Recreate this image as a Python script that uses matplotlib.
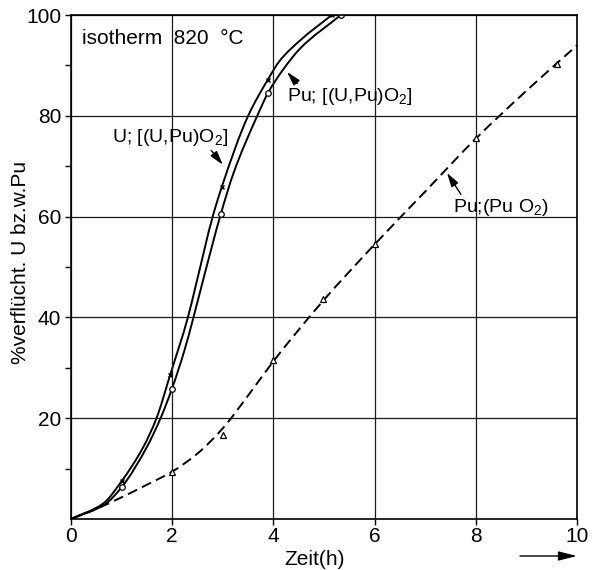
import numpy as np
import matplotlib
matplotlib.use("Agg")
import matplotlib.pyplot as plt
from matplotlib.path import Path
from matplotlib.patches import PathPatch

plt.rcParams['font.family'] = ['Liberation Sans', 'DejaVu Sans']
plt.rcParams['mathtext.fontset'] = 'custom'
plt.rcParams['mathtext.rm'] = 'Liberation Sans'

# measured points
u_x = [1, 1.96, 2.98, 3.89, 5.15]
u_y = [7.5, 28.6, 65.9, 87.2, 100]
pu_x = [1.0, 1.99, 2.96, 3.89, 5.33]
pu_y = [6.3, 25.7, 60.5, 84.5, 100]
puo2_x = [2, 3, 4, 4.98, 6, 8, 9.6]
puo2_y = [9.4, 16.7, 31.5, 43.6, 54.5, 75.6, 90.3]

# curves
u_cx = [0, 0.64, 1.0, 1.43, 1.69, 1.96, 2.31, 2.47, 2.80, 2.98, 3.50, 3.89, 4.13, 4.53, 5.15]
u_cy = [0, 3.1, 7.5, 14.3, 20, 28.6, 40, 46.5, 60, 65.9, 80, 87.2, 91.0, 95.0, 100]
pu_cx = [0, 0.67, 1.0, 1.50, 1.77, 1.99, 2.24, 2.42, 2.61, 2.96, 3.21, 3.68, 3.89, 4.2, 4.53, 5.33]
pu_cy = [0, 2.9, 6.3, 14.3, 20, 25.7, 33.4, 40, 47.4, 60.5, 68.6, 80, 84.5, 89.3, 93.4, 100]
puo2_cx = [0, 0.5, 1, 1.5, 2, 2.5, 3, 3.5, 4, 5, 6, 7, 8, 9, 10]
puo2_cy = [0, 2.0, 4.3, 6.8, 9.4, 13.0, 18.0, 24.5, 31.3, 43.5, 54.5, 65.0, 75.5, 85.0, 94]


def smooth_path(xs, ys):
    # monotone cubic bezier path through the read points (drawing only)
    x = np.asarray(xs, float)
    y = np.asarray(ys, float)
    h = np.diff(x)
    d = np.diff(y) / h
    m = np.zeros_like(x)
    m[0], m[-1] = d[0], d[-1]
    for i in range(1, len(x) - 1):
        if d[i - 1] * d[i] > 0:
            w1 = 2 * h[i] + h[i - 1]
            w2 = h[i] + 2 * h[i - 1]
            m[i] = (w1 + w2) / (w1 / d[i - 1] + w2 / d[i])
    verts = [(x[0], y[0])]
    codes = [Path.MOVETO]
    for i in range(len(x) - 1):
        verts += [(x[i] + h[i] / 3, y[i] + m[i] * h[i] / 3),
                  (x[i + 1] - h[i] / 3, y[i + 1] - m[i + 1] * h[i] / 3),
                  (x[i + 1], y[i + 1])]
        codes += [Path.CURVE4] * 3
    return Path(verts, codes)


fig = plt.figure(figsize=(5.94, 5.70), dpi=100)
ax = fig.add_axes([0.1195, 0.0895, 0.852, 0.884])

ax.add_patch(PathPatch(smooth_path(u_cx, u_cy), fill=False, ec='black', lw=1.4))
ax.add_patch(PathPatch(smooth_path(pu_cx, pu_cy), fill=False, ec='black', lw=1.4))
ax.add_patch(PathPatch(smooth_path(puo2_cx, puo2_cy), fill=False, ec='black', lw=1.4,
                       ls=(0, (5.2, 2.8))))

ax.plot(u_x, u_y, ls='none', marker='x', ms=3.2, mew=1, color='black')
ax.plot(pu_x, pu_y, ls='none', marker='o', ms=4, mew=0.9, mfc='white', mec='black')
ax.plot(puo2_x, puo2_y, ls='none', marker='^', ms=4.2, mew=0.9, mfc='white', mec='black')

ax.set_xlim(0, 10)
ax.set_ylim(0, 100)
ax.set_xticks([0, 2, 4, 6, 8, 10])
ax.set_yticks([20, 40, 60, 80, 100])
ax.set_yticks([10, 30, 50, 70, 90], minor=True)
ax.tick_params(axis='x', labelsize=15, length=4, width=1, pad=2)
ax.tick_params(axis='y', labelsize=15, length=4, width=1, pad=3)
ax.tick_params(axis='y', which='minor', length=4, width=1)
ax.grid(True, which='major', color='#1a1a1a', lw=0.9)
for s in ax.spines.values():
    s.set_linewidth(1.2)

ax.set_ylabel('%verflücht. U bz.w.Pu', fontsize=15)
ax.yaxis.set_label_coords(-0.08, 0.51)
fig.text(0.53, 0.008, 'Zeit(h)', fontsize=15, ha='center')
ax.annotate('', xy=(577, 14), xytext=(520, 14), xycoords='figure pixels',
            textcoords='figure pixels',
            arrowprops=dict(arrowstyle='-|>,head_length=0.8,head_width=0.2',
                            color='black', lw=1, mutation_scale=14,
                            shrinkA=0, shrinkB=0))

ax.text(0.22, 95.3, 'isotherm  820  °C', fontsize=15, va='center')

ax.annotate('U; [(U,Pu)O$_2$]', xy=(3.0, 70.3), xytext=(0.82, 75.8), fontsize=14,
            va='center', arrowprops=dict(arrowstyle='-|>,head_length=0.7,head_width=0.2',
                                         color='black', lw=1,
                                         mutation_scale=12, shrinkA=0, shrinkB=0,
                                         relpos=(0.83, 0)))
ax.annotate('Pu; [(U,Pu)O$_2$]', xy=(4.27, 88.7), xytext=(4.27, 83.8), fontsize=14,
            va='center', arrowprops=dict(arrowstyle='-|>,head_length=0.7,head_width=0.2',
                                         color='black', lw=1,
                                         mutation_scale=12, shrinkA=0, shrinkB=0,
                                         relpos=(0.1, 1)))
ax.annotate('Pu;(Pu O$_2$)', xy=(7.43, 68.7), xytext=(7.55, 61.8), fontsize=14,
            va='center', arrowprops=dict(arrowstyle='-|>,head_length=0.7,head_width=0.2',
                                         color='black', lw=1,
                                         mutation_scale=12, shrinkA=0, shrinkB=0,
                                         relpos=(0.1, 1)))

fig.savefig('out.png', dpi=100)
